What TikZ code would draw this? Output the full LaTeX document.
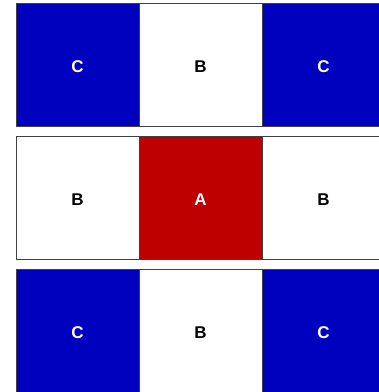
\documentclass[tikz,border=0pt]{standalone}
\usepackage{fontspec}
\newfontfamily\cellfont{Liberation Sans}
\usetikzlibrary{positioning}
\definecolor{cblue}{HTML}{0000BF}
\definecolor{cred}{HTML}{BF0000}
\definecolor{cgrey}{HTML}{404040}
\tikzset{
  every picture/.style={x=1pt, y=-1pt},
  cell/.style={draw=cgrey, line width=1pt, fill=#1, minimum width=123pt, minimum height=123pt, inner sep=0pt, outer sep=0pt, text height=16pt, text depth=0pt, font=\cellfont\bfseries\fontsize{17}{17}\selectfont},
  cell/.default=white,
  cellC/.style={cell=cblue, text=white},
  cellB/.style={cell=white, text=black},
  cellA/.style={cell=cred, text=white},
}
\begin{document}
\begin{tikzpicture}[node distance=0pt]
  \useasboundingbox (0,0) rectangle (379,392);
  \clip (0,0) rectangle (379,392);
  % top row
  \node[cellC, anchor=north west] (c1) at (16,3) {C};
  \node[cellB, right=of c1] (b1) {B};
  \node[cellC, right=of b1] (c2) {C};
  % middle row
  \node[cellB, below=10pt of c1] (b2) {B};
  \node[cellA, right=of b2] (a) {A};
  \node[cellB, right=of a] (b3) {B};
  % bottom row
  \node[cellC, below=10pt of b2] (c3) {C};
  \node[cellB, right=of c3] (b4) {B};
  \node[cellC, right=of b4] (c4) {C};
\end{tikzpicture}
\end{document}
